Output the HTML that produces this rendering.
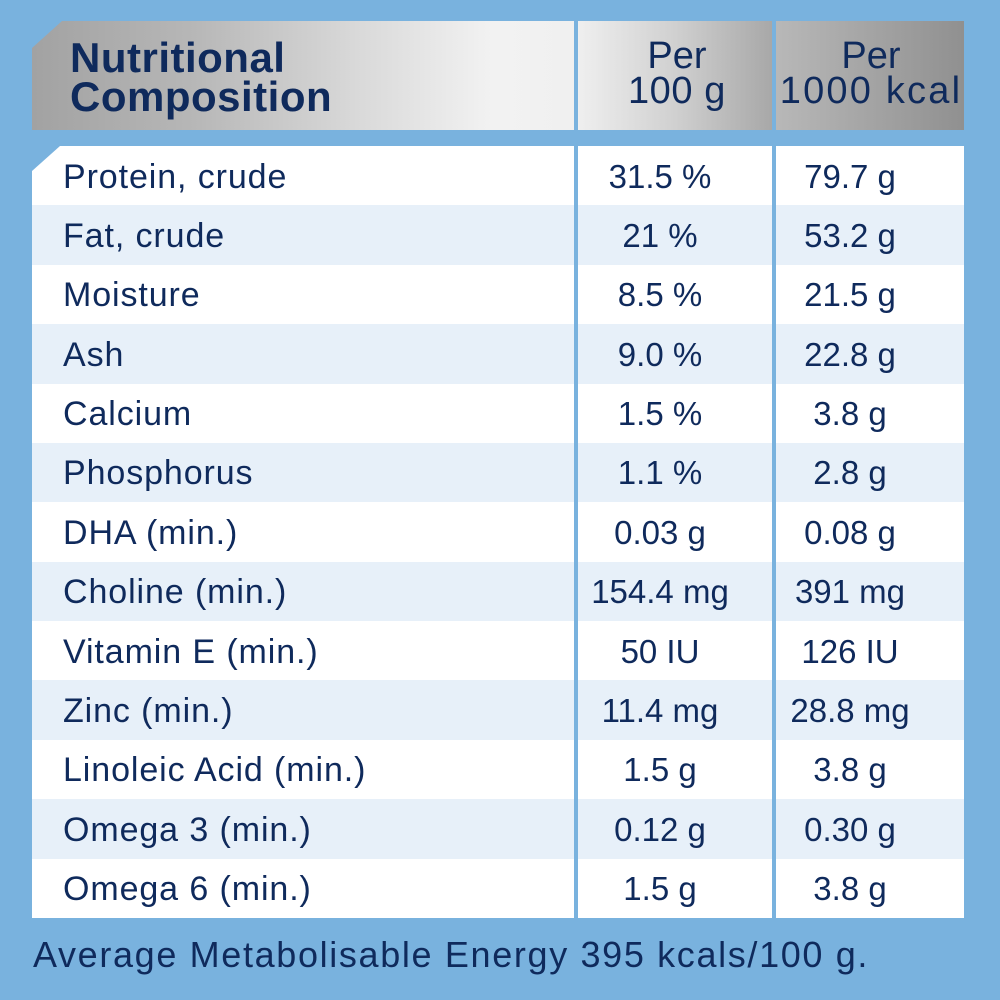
<!DOCTYPE html>
<html><head><meta charset="utf-8">
<style>
html,body{margin:0;padding:0;}
body{width:1000px;height:1000px;position:relative;overflow:hidden;background:#79b2de;font-family:"Liberation Sans",sans-serif;color:#0f2a5c;}
.abs{position:absolute;}
.h1{left:32px;top:21px;width:542px;height:109px;background:linear-gradient(90deg,#a2a2a2 0%,#b7b7b7 30%,#d9d9d9 60%,#f2f2f2 85%,#f0f0f0 100%);clip-path:polygon(30px 0,100% 0,100% 100%,0 100%,0 27px);}
.h2{left:578px;top:21px;width:194px;height:109px;background:linear-gradient(90deg,#efefef 0%,#d0d0d0 50%,#a8a8a8 100%);}
.h3{left:776px;top:21px;width:188px;height:109px;background:linear-gradient(90deg,#b8b8b8 0%,#a4a4a4 50%,#909090 100%);}
.ht{position:absolute;left:70px;top:38px;font-weight:bold;font-size:42px;line-height:39px;letter-spacing:0.5px;white-space:nowrap;}
.hc{position:absolute;top:39px;font-size:38px;line-height:35px;text-align:center;white-space:nowrap;}
.rows{position:absolute;left:0;top:146px;width:1000px;height:772px;}
.row{position:relative;height:59.385px;}
.c{position:absolute;top:0;height:100%;line-height:59.4px;white-space:nowrap;}
.c span{position:relative;top:0.5px;}
.c1{left:32px;width:542px;letter-spacing:0.9px;font-size:34px;}
.c1 span{padding-left:31px;top:1.5px;}
.c2{left:578px;width:194px;font-size:33px;}
.c2 span{display:inline-block;width:164px;text-align:center;letter-spacing:0px;}
.c3{left:776px;width:188px;font-size:33px;}
.c3 span{display:inline-block;width:148px;text-align:center;letter-spacing:0px;}
.w .c{background:#ffffff;}
.b .c{background:#e7f0f9;}
.first .c1{clip-path:polygon(28px 0,100% 0,100% 100%,0 100%,0 25px);}
.foot{position:absolute;left:33px;top:935px;font-size:36px;line-height:40px;letter-spacing:1.65px;white-space:nowrap;}
</style></head>
<body>
<div class="abs h1"></div>
<div class="abs h2"></div>
<div class="abs h3"></div>
<div class="ht">Nutritional<br>Composition</div>
<div class="hc" style="left:580px;width:194px;"><span>Per</span><br><span style="letter-spacing:0.6px">100 g</span></div>
<div class="hc" style="left:777px;width:188px;"><span>Per</span><br><span style="letter-spacing:2.2px">1000 kcal</span></div>

<div class="rows">
<div class="row w first"><div class="c c1"><span>Protein, crude</span></div><div class="c c2"><span>31.5 %</span></div><div class="c c3"><span>79.7 g</span></div></div>
<div class="row b"><div class="c c1"><span>Fat, crude</span></div><div class="c c2"><span>21 %</span></div><div class="c c3"><span>53.2 g</span></div></div>
<div class="row w"><div class="c c1"><span>Moisture</span></div><div class="c c2"><span>8.5 %</span></div><div class="c c3"><span>21.5 g</span></div></div>
<div class="row b"><div class="c c1"><span>Ash</span></div><div class="c c2"><span>9.0 %</span></div><div class="c c3"><span>22.8 g</span></div></div>
<div class="row w"><div class="c c1"><span>Calcium</span></div><div class="c c2"><span>1.5 %</span></div><div class="c c3"><span>3.8 g</span></div></div>
<div class="row b"><div class="c c1"><span>Phosphorus</span></div><div class="c c2"><span>1.1 %</span></div><div class="c c3"><span>2.8 g</span></div></div>
<div class="row w"><div class="c c1"><span>DHA (min.)</span></div><div class="c c2"><span>0.03 g</span></div><div class="c c3"><span>0.08 g</span></div></div>
<div class="row b"><div class="c c1"><span>Choline (min.)</span></div><div class="c c2"><span>154.4 mg</span></div><div class="c c3"><span>391 mg</span></div></div>
<div class="row w"><div class="c c1"><span>Vitamin E (min.)</span></div><div class="c c2"><span>50 IU</span></div><div class="c c3"><span>126 IU</span></div></div>
<div class="row b"><div class="c c1"><span>Zinc (min.)</span></div><div class="c c2"><span>11.4 mg</span></div><div class="c c3"><span>28.8 mg</span></div></div>
<div class="row w"><div class="c c1"><span>Linoleic Acid (min.)</span></div><div class="c c2"><span>1.5 g</span></div><div class="c c3"><span>3.8 g</span></div></div>
<div class="row b"><div class="c c1"><span>Omega 3 (min.)</span></div><div class="c c2"><span>0.12 g</span></div><div class="c c3"><span>0.30 g</span></div></div>
<div class="row w"><div class="c c1"><span>Omega 6 (min.)</span></div><div class="c c2"><span>1.5 g</span></div><div class="c c3"><span>3.8 g</span></div></div>
</div>

<div class="foot">Average Metabolisable Energy 395 kcals/100 g.</div>
</body></html>
